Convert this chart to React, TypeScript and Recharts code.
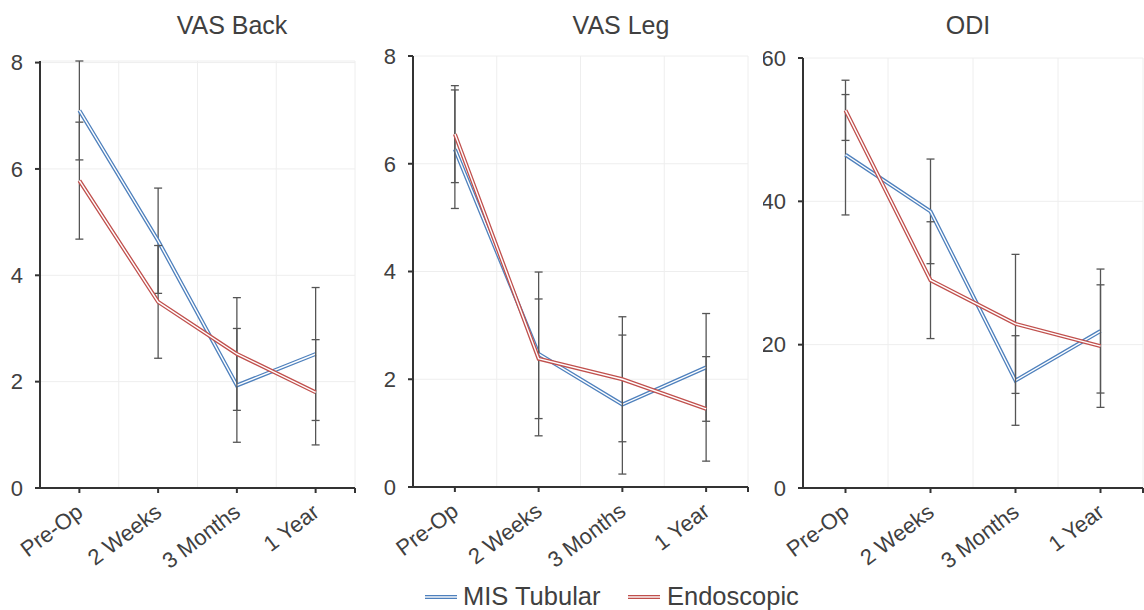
import React from "react";
import {
  LineChart,
  Line,
  XAxis,
  YAxis,
  CartesianGrid,
  ReferenceLine,
  ErrorBar,
} from "recharts";

// Categories along the x axis
const categories = ["Pre-Op", "2 Weeks", "3 Months", "1 Year"];

// VAS Back
const vasBackMis = [7.1, 4.65, 1.93, 2.52];
const vasBackMisErr = [0.93, 0.99, 1.07, 1.25];
const vasBackEndo = [5.78, 3.5, 2.52, 1.8];
const vasBackEndoErr = [1.1, 1.06, 1.06, 0.99];

// VAS Leg
const vasLegMis = [6.27, 2.47, 1.53, 2.22];
const vasLegMisErr = [1.1, 1.52, 1.29, 1.0];
const vasLegEndo = [6.55, 2.38, 2.0, 1.45];
const vasLegEndoErr = [0.9, 1.11, 1.16, 0.97];

// ODI
const odiMis = [46.5, 38.6, 15.0, 21.9];
const odiMisErr = [8.4, 7.3, 6.25, 8.65];
const odiEndo = [52.7, 29.0, 22.9, 19.8];
const odiEndoErr = [4.2, 8.15, 9.7, 8.55];

const vasTicks = [0, 2, 4, 6, 8];
const odiTicks = [0, 20, 40, 60];

const BLUE = "#4f81bd";
const RED = "#c0504d";
const TEXT = "#404040";
const FONT = '"Liberation Sans", Arial, Helvetica, sans-serif';

const buildRows = (mis: number[], misErr: number[], endo: number[], endoErr: number[]) =>
  categories.map((_, i) => ({
    idx: i,
    mis: mis[i],
    misErr: misErr[i],
    endo: endo[i],
    endoErr: endoErr[i],
  }));

const XTick = (props: any) => {
  const { x, y, payload } = props;
  const label = categories[payload.value];
  if (label === undefined) return null;
  const ax = x + 5;
  const ay = y + 20;
  return (
    <text
      x={ax}
      y={ay}
      transform={`rotate(-37 ${ax} ${ay})`}
      textAnchor="end"
      fontSize={22}
      fontFamily={FONT}
      fill={TEXT}
    >
      {label}
    </text>
  );
};

interface PanelProps {
  left: number;
  top: number;
  width: number;
  plotTop: number;
  plotBottom: number;
  rows: ReturnType<typeof buildRows>;
  yMax: number;
  yTicks: number[];
}

function Panel({ left, top, width, plotTop, plotBottom, rows, yMax, yTicks }: PanelProps) {
  const xAxisHeight = 85;
  return (
    <div style={{ position: "absolute", left, top }}>
      <LineChart
        width={width}
        height={plotBottom + xAxisHeight}
        data={rows}
        margin={{ top: plotTop, right: 5, left: 0, bottom: 0 }}
      >
        <CartesianGrid stroke="#eeeeee" vertical={false} />
        {[0.5, 1.5, 2.5, 3.5].map((v) => (
          <ReferenceLine key={v} x={v} stroke="#eeeeee" />
        ))}
        <XAxis
          dataKey="idx"
          type="number"
          domain={[-0.5, 3.5]}
          ticks={[0, 1, 2, 3, 3.5]}
          interval={0}
          height={xAxisHeight}
          tick={<XTick />}
          tickSize={5}
          tickMargin={2}
          stroke="#333"
          strokeWidth={2}
          allowDataOverflow
        />
        <YAxis
          type="number"
          domain={[0, yMax]}
          ticks={yTicks}
          width={40}
          tickSize={5}
          tickMargin={12}
          stroke="#333"
          strokeWidth={2}
          tick={{ fontSize: 22, fill: TEXT, fontFamily: FONT }}
        />
        <Line dataKey="mis" stroke={BLUE} strokeWidth={4} dot={false} isAnimationActive={false}>
          <ErrorBar dataKey="misErr" width={4} stroke="#555" strokeWidth={1.3} direction="y" />
        </Line>
        <Line dataKey="mis" stroke="#ffffff" strokeWidth={1.4} dot={false} isAnimationActive={false} />
        <Line dataKey="endo" stroke={RED} strokeWidth={4} dot={false} isAnimationActive={false}>
          <ErrorBar dataKey="endoErr" width={4} stroke="#555" strokeWidth={1.3} direction="y" />
        </Line>
        <Line dataKey="endo" stroke="#ffffff" strokeWidth={1.4} dot={false} isAnimationActive={false} />
      </LineChart>
    </div>
  );
}

const titleStyle = (center: number): React.CSSProperties => ({
  position: "absolute",
  left: center - 100,
  top: 11,
  width: 200,
  textAlign: "center",
  fontSize: 25,
  lineHeight: "28px",
  color: TEXT,
  fontFamily: FONT,
});

const LegendIcon = ({ color }: { color: string }) => (
  <svg width={32} height={8} style={{ display: "block" }}>
    <line x1={0} y1={4} x2={32} y2={4} stroke={color} strokeWidth={4} />
    <line x1={0} y1={4} x2={32} y2={4} stroke="#fff" strokeWidth={1.4} />
  </svg>
);

export default function App() {
  return (
    <div
      style={{
        position: "absolute",
        left: 0,
        top: 0,
        width: 1144,
        height: 610,
        overflow: "hidden",
        background: "#fff",
        fontFamily: FONT,
      }}
    >
      <div style={titleStyle(232)}>VAS Back</div>
      <div style={titleStyle(621)}>VAS Leg</div>
      <div style={titleStyle(968)}>ODI</div>

      <Panel
        left={0}
        top={0}
        width={360}
        plotTop={61}
        plotBottom={488}
        rows={buildRows(vasBackMis, vasBackMisErr, vasBackEndo, vasBackEndoErr)}
        yMax={8}
        yTicks={vasTicks}
      />
      <Panel
        left={373}
        top={0}
        width={380}
        plotTop={56}
        plotBottom={487}
        rows={buildRows(vasLegMis, vasLegMisErr, vasLegEndo, vasLegEndoErr)}
        yMax={8}
        yTicks={vasTicks}
      />
      <Panel
        left={763}
        top={0}
        width={385}
        plotTop={58}
        plotBottom={488}
        rows={buildRows(odiMis, odiMisErr, odiEndo, odiEndoErr)}
        yMax={60}
        yTicks={odiTicks}
      />

      <div style={{ position: "absolute", left: 425, top: 593 }}>
        <LegendIcon color={BLUE} />
      </div>
      <div style={{ position: "absolute", left: 463, top: 581, fontSize: 25.5, lineHeight: "30px", color: TEXT }}>
        MIS Tubular
      </div>
      <div style={{ position: "absolute", left: 628, top: 593 }}>
        <LegendIcon color={RED} />
      </div>
      <div style={{ position: "absolute", left: 667, top: 581, fontSize: 25.5, lineHeight: "30px", color: TEXT }}>
        Endoscopic
      </div>
    </div>
  );
}
